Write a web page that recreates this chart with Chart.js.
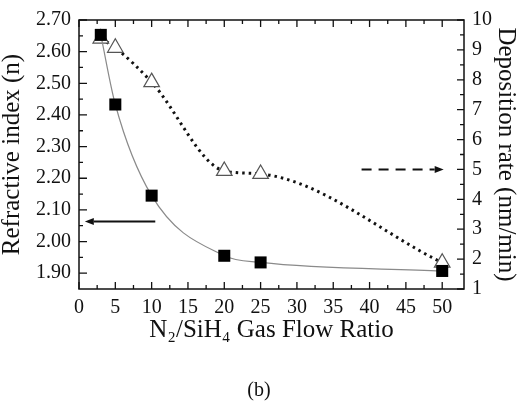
<!DOCTYPE html>
<html><head><meta charset="utf-8">
<script src="https://cdn.jsdelivr.net/npm/chart.js@4.4.1/dist/chart.umd.min.js"></script>
<style>html,body{margin:0;padding:0;background:#fff;}#wrap{width:518px;height:406px;position:relative;}</style>
</head><body><div id="wrap"><canvas id="c"></canvas></div>
<script>
const flowRatio = [3, 5, 10, 20, 25, 50];
const refractiveIndex = [2.653, 2.433, 2.145, 1.955, 1.934, 1.907];
const depositionRate = [9.38, 9.07, 7.92, 4.95, 4.85, 1.88];
const xTicks = [0, 5, 10, 15, 20, 25, 30, 35, 40, 45, 50];
const leftTicks = [1.90, 2.00, 2.10, 2.20, 2.30, 2.40, 2.50, 2.60, 2.70];
const rightTicks = [1, 2, 3, 4, 5, 6, 7, 8, 9, 10];

const FONT = 'Liberation Serif';

const arrows = [
  { yAxis: 'y', from: [10.5, 2.063], to: [0.8, 2.063], dash: [] },
  { yAxis: 'y1', from: [38.9, 5.0], to: [50.2, 5.0], dash: [10, 7] }
];

function midpoints(vals) {
  const out = [];
  for (let i = 0; i < vals.length - 1; i++) out.push((vals[i] + vals[i + 1]) / 2);
  return out;
}

const framePlugin = {
  id: 'frame',
  afterDraw(chart) {
    const ctx = chart.ctx;
    const a = chart.chartArea;
    const xs = chart.scales.x, yl = chart.scales.y, yr = chart.scales.y1;
    ctx.save();
    ctx.strokeStyle = '#111';
    ctx.lineWidth = 1.5;
    ctx.strokeRect(a.left, a.top, a.right - a.left, a.bottom - a.top);
    ctx.lineWidth = 1.3;
    ctx.beginPath();
    const xv = xs.ticks.map(t => t.value);
    const drawX = (v, len) => {
      const p = xs.getPixelForValue(v);
      ctx.moveTo(p, a.bottom); ctx.lineTo(p, a.bottom - len);
      ctx.moveTo(p, a.top); ctx.lineTo(p, a.top + len);
    };
    xv.forEach(v => drawX(v, 7));
    midpoints(xv).forEach(v => drawX(v, 4));
    const lv = yl.ticks.map(t => t.value);
    const drawL = (v, len) => {
      const p = yl.getPixelForValue(v);
      ctx.moveTo(a.left, p); ctx.lineTo(a.left + len, p);
    };
    lv.forEach(v => drawL(v, 8));
    midpoints(lv).forEach(v => drawL(v, 4));
    const rv = yr.ticks.map(t => t.value);
    const drawR = (v, len) => {
      const p = yr.getPixelForValue(v);
      ctx.moveTo(a.right, p); ctx.lineTo(a.right - len, p);
    };
    rv.forEach(v => drawR(v, 7));
    midpoints(rv).forEach(v => drawR(v, 4));
    ctx.stroke();

    // annotation arrows
    arrows.forEach(ar => {
      const ys = chart.scales[ar.yAxis];
      const x1 = xs.getPixelForValue(ar.from[0]), y1 = ys.getPixelForValue(ar.from[1]);
      const x2 = xs.getPixelForValue(ar.to[0]), y2 = ys.getPixelForValue(ar.to[1]);
      const dir = Math.sign(x2 - x1);
      const head = 9;
      ctx.beginPath();
      ctx.setLineDash(ar.dash);
      ctx.lineWidth = 2;
      ctx.strokeStyle = '#111';
      ctx.moveTo(x1, y1); ctx.lineTo(x2 - dir * head, y2);
      ctx.stroke();
      ctx.setLineDash([]);
      ctx.beginPath();
      ctx.fillStyle = '#111';
      ctx.moveTo(x2, y2);
      ctx.lineTo(x2 - dir * head, y2 - 3.5);
      ctx.lineTo(x2 - dir * head, y2 + 3.5);
      ctx.closePath();
      ctx.fill();
    });
    ctx.restore();
  }
};

new Chart(document.getElementById('c'), {
  type: 'line',
  data: {
    datasets: [
      {
        label: 'Refractive index',
        data: flowRatio.map((x, i) => ({ x, y: refractiveIndex[i] })),
        yAxisID: 'y',
        borderColor: '#8a8a8a',
        borderWidth: 1.2,
        cubicInterpolationMode: 'monotone',
        pointStyle: 'rect',
        pointRadius: 8.5,
        pointBackgroundColor: '#000',
        pointBorderColor: '#000',
        pointBorderWidth: 0,
        fill: false
      },
      {
        label: 'Deposition rate',
        data: flowRatio.map((x, i) => ({ x, y: depositionRate[i] })),
        yAxisID: 'y1',
        borderColor: '#111',
        borderWidth: 3,
        borderDash: [2.5, 4],
        cubicInterpolationMode: 'monotone',
        pointStyle: 'triangle',
        pointRadius: 9,
        pointBackgroundColor: '#fff',
        pointBorderColor: '#555',
        pointBorderWidth: 1.2,
        fill: false
      }
    ]
  },
  options: {
    responsive: true,
    maintainAspectRatio: false,
    animation: false,
    devicePixelRatio: 1,
    layout: { padding: { top: 18, left: 0, right: 0, bottom: 0 } },
    plugins: {
      legend: { display: false },
      tooltip: { enabled: false },
      title: {
        display: true,
        position: 'bottom',
        text: '(b)',
        color: '#111',
        font: { family: FONT, size: 20, weight: 'normal' },
        padding: { top: 0, bottom: 3 }
      }
    },
    scales: {
      x: {
        type: 'linear',
        min: 0,
        max: 53,
        afterBuildTicks: s => { s.ticks = xTicks.map(v => ({ value: v })); },
        afterFit: s => { s.height = 90; },
        grid: { display: false, drawTicks: false },
        border: { display: false },
        ticks: {
          autoSkip: false, maxRotation: 0, padding: 7, color: '#111',
          font: { family: FONT, size: 20 },
          callback: v => String(v)
        },
        title: {
          display: true,
          text: 'N\u2082/SiH\u2084 Gas Flow Ratio',
          color: '#111',
          font: { family: FONT, size: 25, lineHeight: 1 },
          padding: { top: 0, bottom: 36 }
        }
      },
      y: {
        type: 'linear',
        position: 'left',
        min: 1.85,
        max: 2.70,
        afterBuildTicks: s => { s.ticks = leftTicks.map(v => ({ value: v })); },
        afterFit: s => { s.width = 79; },
        grid: { display: false, drawTicks: false },
        border: { display: false },
        ticks: {
          autoSkip: false, padding: 8, color: '#111',
          font: { family: FONT, size: 20 },
          callback: v => Number(v).toFixed(2)
        },
        title: {
          display: true,
          text: 'Refractive index (n)',
          color: '#111',
          font: { family: FONT, size: 25, lineHeight: 1 },
          padding: 0
        }
      },
      y1: {
        type: 'linear',
        position: 'right',
        min: 1,
        max: 10,
        afterBuildTicks: s => { s.ticks = rightTicks.map(v => ({ value: v })); },
        afterFit: s => { s.width = 54; },
        grid: { display: false, drawTicks: false },
        border: { display: false },
        ticks: {
          autoSkip: false, padding: 8, color: '#111',
          font: { family: FONT, size: 20 },
          callback: v => String(v)
        },
        title: {
          display: true,
          text: 'Deposition rate (nm/min)',
          color: '#111',
          font: { family: FONT, size: 25, lineHeight: 1 },
          padding: 0
        }
      }
    }
  },
  plugins: [framePlugin]
});
</script>
</body></html>
